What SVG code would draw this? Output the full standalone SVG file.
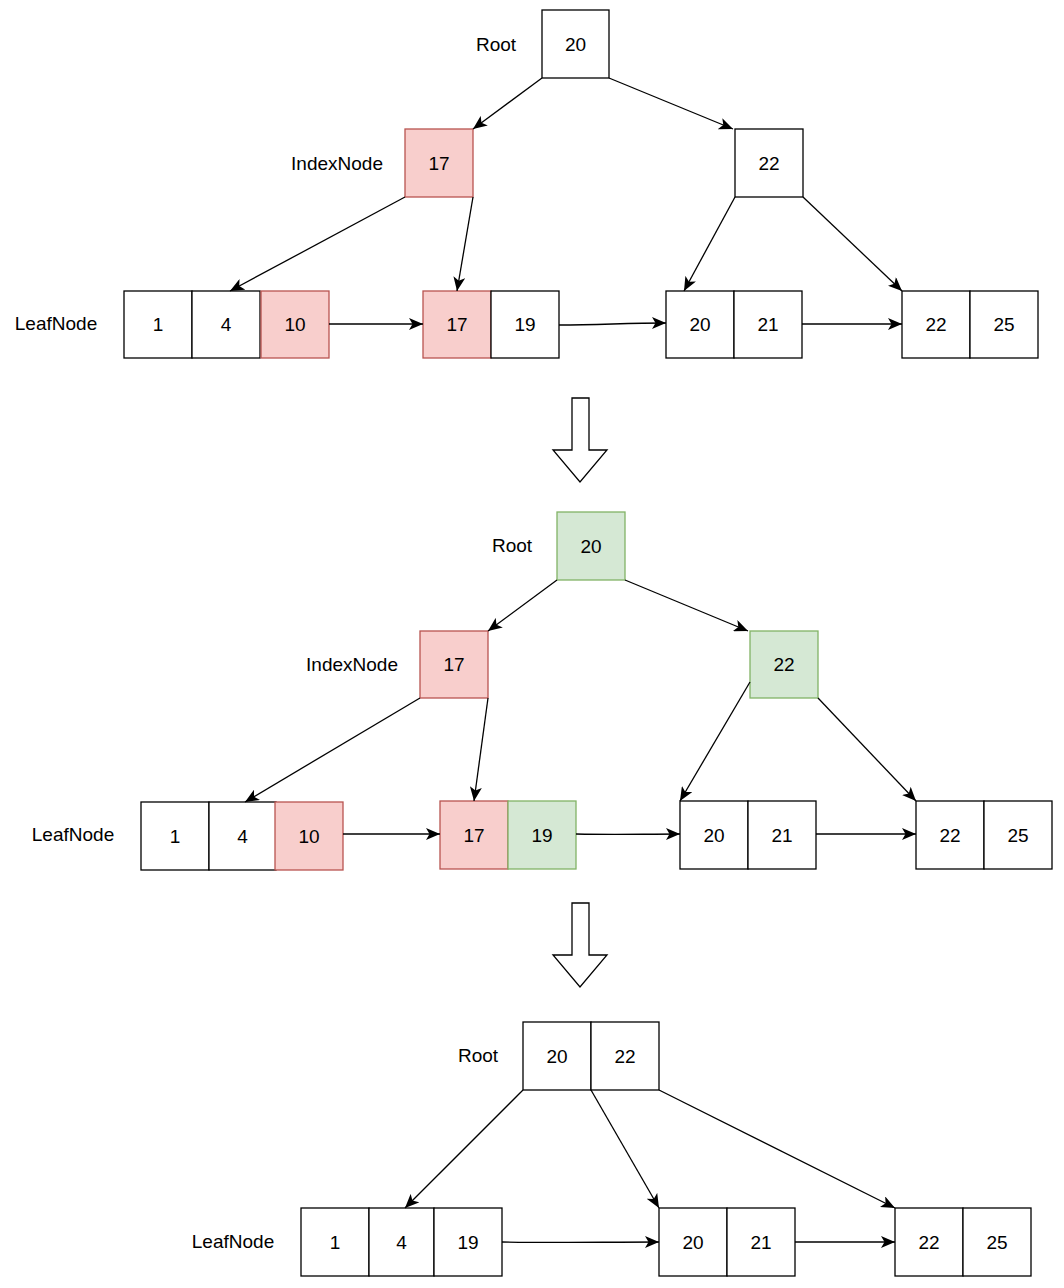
<svg xmlns="http://www.w3.org/2000/svg" width="1064" height="1288" viewBox="0 0 1064 1288">
<style>
.c{fill:#fff;stroke:#000;stroke-width:1.3}
.r{fill:#f8cecc;stroke:#b85450;stroke-width:1.3}
.g{fill:#d5e8d4;stroke:#82b366;stroke-width:1.3}
text{font-family:"Liberation Sans",Arial,sans-serif;font-size:19px;fill:#000;text-anchor:middle;dominant-baseline:central}
.e{fill:none;stroke:#000;stroke-width:1.3;marker-end:url(#a)}
.big{fill:#fff;stroke:#000;stroke-width:1.3}
</style>
<defs>
<marker id="a" markerUnits="userSpaceOnUse" markerWidth="16" markerHeight="12" refX="14" refY="6" orient="auto">
<path d="M0,0 L14,6 L0,12 L3.5,6 Z" fill="#000"/>
</marker>
</defs>
<rect width="1064" height="1288" fill="#fff"/>

<!-- Section 1 -->
<g id="s1-labels">
<text x="496" y="44">Root</text>
<text x="337" y="163">IndexNode</text>
<text x="56" y="323">LeafNode</text>
</g>
<g id="s1-root"><rect class="c" x="542" y="10" width="67" height="68"/><text x="575.5" y="44">20</text></g>
<g id="s1-idx17"><rect class="r" x="405" y="129" width="68" height="68"/><text x="439" y="163">17</text></g>
<g id="s1-idx22"><rect class="c" x="735" y="129" width="68" height="68"/><text x="769" y="163">22</text></g>
<g id="s1-leafA">
<rect class="c" x="124" y="291" width="68" height="67"/><text x="158" y="324.5">1</text>
<rect class="c" x="192" y="291" width="68" height="67"/><text x="226" y="324.5">4</text>
<rect class="r" x="261" y="291" width="68" height="67"/><text x="295" y="324.5">10</text>
</g>
<g id="s1-leafB">
<rect class="r" x="423" y="291" width="68" height="67"/><text x="457" y="324.5">17</text>
<rect class="c" x="491" y="291" width="68" height="67"/><text x="525" y="324.5">19</text>
</g>
<g id="s1-leafC">
<rect class="c" x="666" y="291" width="68" height="67"/><text x="700" y="324.5">20</text>
<rect class="c" x="734" y="291" width="68" height="67"/><text x="768" y="324.5">21</text>
</g>
<g id="s1-leafD">
<rect class="c" x="902" y="291" width="68" height="67"/><text x="936" y="324.5">22</text>
<rect class="c" x="970" y="291" width="68" height="67"/><text x="1004" y="324.5">25</text>
</g>
<g id="s1-edges">
<path class="e" d="M542 78 L473 129"/>
<path class="e" d="M609 78 L733 129"/>
<path class="e" d="M405 197 L230 291"/>
<path class="e" d="M473 197 L457 291"/>
<path class="e" d="M735 197 L684 291"/>
<path class="e" d="M803 197 L902 291"/>
<path class="e" d="M329 324 L423 324"/>
<path class="e" d="M559 325 C600 325 625 323 666 323"/>
<path class="e" d="M802 324 L902 324"/>
</g>

<g id="arrow1"><path class="big" d="M572 398 L589 398 L589 450 L607 450 L580 482 L553 450 L572 450 Z"/></g>

<!-- Section 2 -->
<g id="s2-labels">
<text x="512" y="545">Root</text>
<text x="352" y="664">IndexNode</text>
<text x="73" y="834">LeafNode</text>
</g>
<g id="s2-root"><rect class="g" x="557" y="512" width="68" height="68"/><text x="591" y="546">20</text></g>
<g id="s2-idx17"><rect class="r" x="420" y="631" width="68" height="67"/><text x="454" y="664.5">17</text></g>
<g id="s2-idx22"><rect class="g" x="750" y="631" width="68" height="67"/><text x="784" y="664.5">22</text></g>
<g id="s2-leafA">
<rect class="c" x="141" y="802" width="68" height="68"/><text x="175" y="836">1</text>
<rect class="c" x="209" y="802" width="67" height="68"/><text x="242.5" y="836">4</text>
<rect class="r" x="275" y="802" width="68" height="68"/><text x="309" y="836">10</text>
</g>
<g id="s2-leafB">
<rect class="r" x="440" y="801" width="68" height="68"/><text x="474" y="835">17</text>
<rect class="g" x="508" y="801" width="68" height="68"/><text x="542" y="835">19</text>
</g>
<g id="s2-leafC">
<rect class="c" x="680" y="801" width="68" height="68"/><text x="714" y="835">20</text>
<rect class="c" x="748" y="801" width="68" height="68"/><text x="782" y="835">21</text>
</g>
<g id="s2-leafD">
<rect class="c" x="916" y="801" width="68" height="68"/><text x="950" y="835">22</text>
<rect class="c" x="984" y="801" width="68" height="68"/><text x="1018" y="835">25</text>
</g>
<g id="s2-edges">
<path class="e" d="M557 580 L488 631"/>
<path class="e" d="M625 580 L748 631"/>
<path class="e" d="M420 698 L245 802"/>
<path class="e" d="M488 698 L474 801"/>
<path class="e" d="M750 682 L680 801"/>
<path class="e" d="M818 698 L916 801"/>
<path class="e" d="M343 834 L440 834"/>
<path class="e" d="M576 834 C620 835 640 834 680 834"/>
<path class="e" d="M816 834 L916 834"/>
</g>

<g id="arrow2"><path class="big" d="M572 903 L589 903 L589 955 L607 955 L580 987 L553 955 L572 955 Z"/></g>

<!-- Section 3 -->
<g id="s3-labels">
<text x="478" y="1055">Root</text>
<text x="233" y="1241">LeafNode</text>
</g>
<g id="s3-root">
<rect class="c" x="523" y="1022" width="68" height="68"/><text x="557" y="1056">20</text>
<rect class="c" x="591" y="1022" width="68" height="68"/><text x="625" y="1056">22</text>
</g>
<g id="s3-leafA">
<rect class="c" x="301" y="1208" width="68" height="68"/><text x="335" y="1242">1</text>
<rect class="c" x="369" y="1208" width="65" height="68"/><text x="401.5" y="1242">4</text>
<rect class="c" x="434" y="1208" width="68" height="68"/><text x="468" y="1242">19</text>
</g>
<g id="s3-leafB">
<rect class="c" x="659" y="1208" width="68" height="68"/><text x="693" y="1242">20</text>
<rect class="c" x="727" y="1208" width="68" height="68"/><text x="761" y="1242">21</text>
</g>
<g id="s3-leafC">
<rect class="c" x="895" y="1208" width="68" height="68"/><text x="929" y="1242">22</text>
<rect class="c" x="963" y="1208" width="68" height="68"/><text x="997" y="1242">25</text>
</g>
<g id="s3-edges">
<path class="e" d="M523 1090 L405 1208"/>
<path class="e" d="M591 1090 L659 1208"/>
<path class="e" d="M659 1090 L895 1208"/>
<path class="e" d="M502 1242 C560 1243 600 1242 659 1242"/>
<path class="e" d="M795 1242 L895 1242"/>
</g>
</svg>
